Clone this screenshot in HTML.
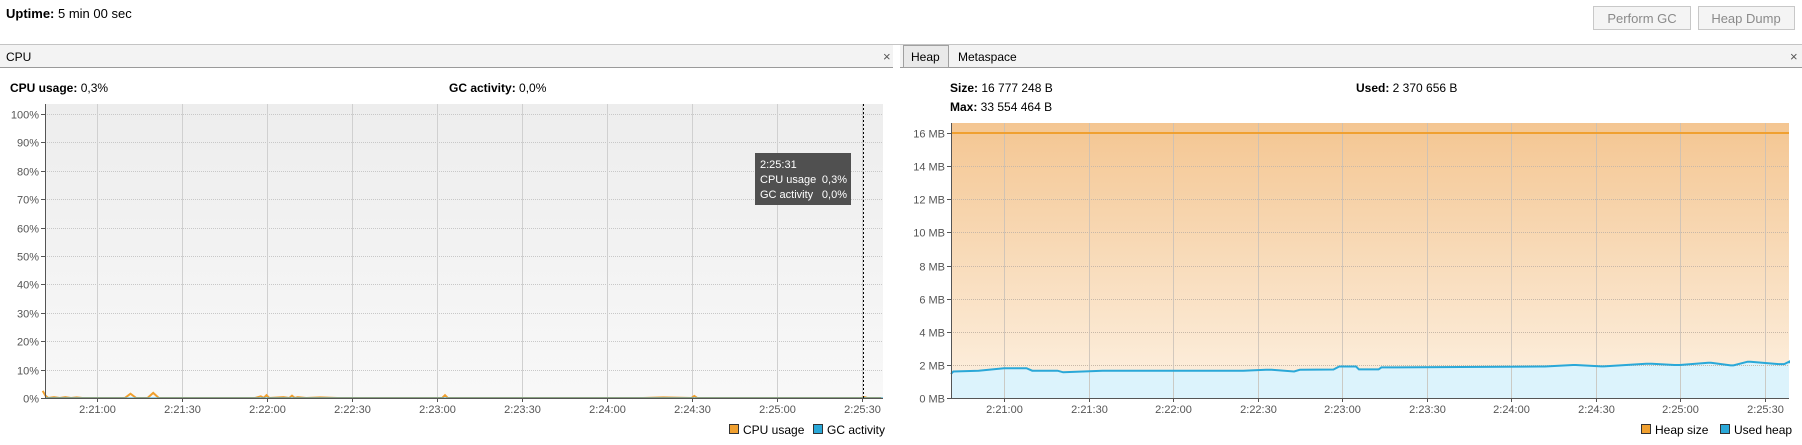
<!DOCTYPE html>
<html><head><meta charset="utf-8"><style>
html,body{margin:0;padding:0;background:#fff;width:1802px;height:445px;overflow:hidden}
svg{display:block;font-family:"Liberation Sans",Tahoma,sans-serif}
</style></head><body>
<svg id="s" width="1802" height="445" xmlns="http://www.w3.org/2000/svg">
<defs>
<linearGradient id="cpubg" x1="0" y1="0" x2="0" y2="1"><stop offset="0" stop-color="#ededed"/><stop offset="1" stop-color="#f8f8f8"/></linearGradient>
<linearGradient id="heapbg" x1="0" y1="0" x2="0" y2="1"><stop offset="0" stop-color="#f4c692"/><stop offset="1" stop-color="#fdf1e2"/></linearGradient>
</defs>
<text x="6" y="18" font-size="13"><tspan font-weight="bold">Uptime:</tspan> 5 min 00 sec</text>
<g><rect x="1593.5" y="6.5" width="97" height="23" fill="#f4f4f4" stroke="#c8c8c8"/><text x="1642" y="23" font-size="13" fill="#8a8a8a" text-anchor="middle">Perform GC</text></g>
<g><rect x="1698.5" y="6.5" width="96" height="23" fill="#f4f4f4" stroke="#c8c8c8"/><text x="1746" y="23" font-size="13" fill="#8a8a8a" text-anchor="middle">Heap Dump</text></g>
<line x1="0" y1="44.5" x2="1802" y2="44.5" stroke="#c4c4c4"/>
<rect x="0" y="45" width="893" height="22" fill="#f3f3f3"/>
<line x1="0" y1="67.5" x2="893" y2="67.5" stroke="#9a9a9a"/>
<text x="6" y="61" font-size="12">CPU</text>
<text x="883" y="61" font-size="13" fill="#555">×</text>
<rect x="900" y="45" width="902" height="22" fill="#f3f3f3"/>
<line x1="900" y1="67.5" x2="1802" y2="67.5" stroke="#9a9a9a"/>
<rect x="903.5" y="45.5" width="45" height="22" fill="#e9e9e9" stroke="#a0a0a0"/>
<text x="911" y="61" font-size="12">Heap</text>
<text x="958" y="61" font-size="12">Metaspace</text>
<text x="1790" y="61" font-size="13" fill="#555">×</text>
<text x="10" y="92" font-size="12"><tspan font-weight="bold">CPU usage:</tspan> 0,3%</text>
<text x="449" y="92" font-size="12"><tspan font-weight="bold">GC activity:</tspan> 0,0%</text>
<text x="950" y="92" font-size="12"><tspan font-weight="bold">Size:</tspan> 16 777 248 B</text>
<text x="950" y="111" font-size="12"><tspan font-weight="bold">Max:</tspan> 33 554 464 B</text>
<text x="1356" y="92" font-size="12"><tspan font-weight="bold">Used:</tspan> 2 370 656 B</text>
<g id="cpu"></g>
<g id="heap"></g>
<g>
<rect x="729.5" y="424.5" width="9" height="9" fill="#f0a030" stroke="#333"/><text x="743" y="434" font-size="12">CPU usage</text>
<rect x="813.5" y="424.5" width="9" height="9" fill="#2aa8d8" stroke="#333"/><text x="827" y="434" font-size="12">GC activity</text>
</g>
<g>
<rect x="1641.5" y="424.5" width="9" height="9" fill="#f0a030" stroke="#333"/><text x="1655" y="434" font-size="12">Heap size</text>
<rect x="1720.5" y="424.5" width="9" height="9" fill="#2aa8d8" stroke="#333"/><text x="1734" y="434" font-size="12">Used heap</text>
</g>
</svg>
<script>
// time in seconds relative to 2:21:00
const tickLabels = ["2:21:00","2:21:30","2:22:00","2:22:30","2:23:00","2:23:30","2:24:00","2:24:30","2:25:00","2:25:30"];
const tickSeconds = [0,30,60,90,120,150,180,210,240,270];
const cpuTicks = [0,10,20,30,40,50,60,70,80,90,100];
const cpuTimes = [-19,-18,-17,-15,-13,-11,-9,-7,-5,5,10,12,14,18,20,22,56,58,59,60,61,66,68,69,70,71,74,79,85,105,122,123,124,160,175,185,193,200,210,211,212,240,270,271,272,277];
const cpuValues = [2.5,0.8,0,0.3,0,0.3,0,0.2,0,0,0,1.5,0,0,1.8,0,0,0.6,0,1,0,0.3,0,0.8,0,0.3,0,0.2,0,0,0,1,0,0,0,0,0,0.2,0,0.7,0,0,0,0.3,0,0];
const heapTicks = [0,2,4,6,8,10,12,14,16];
const heapSizeMB = 16.0;
const usedTimes = [-19.5,-18,-9,0,8,10,19,21,28,35,85,93,95,103,105,117,119,125,126,133,134,162,190,192,202,203,212,213,228,230,238,240,250,251,258,259,264,265,275,277,285,287,297,298];
const usedValues = [1.45,1.6,1.65,1.8,1.8,1.65,1.65,1.55,1.6,1.65,1.65,1.7,1.7,1.6,1.7,1.72,1.9,1.9,1.73,1.73,1.85,1.87,1.9,1.9,1.99,1.99,1.91,1.91,2.07,2.07,1.99,1.99,2.13,2.13,1.97,1.97,2.19,2.19,2.05,2.05,2.19,2.19,2.1,2.23];

const NS="http://www.w3.org/2000/svg";
function mk(tag,attrs,parent){const e=document.createElementNS(NS,tag);for(const k in attrs)e.setAttribute(k,attrs[k]);parent.appendChild(e);return e;}
const cpuG=document.getElementById('cpu'), heapG=document.getElementById('heap');
// CPU axes
const cL=45,cR=883,cT=104,cB=398;
const cx=t=>96.5+t*85/30;
const cy=v=>398-v*2.84;
mk('rect',{x:cL,y:cT,width:cR-cL,height:cB-cT,fill:'url(#cpubg)'},cpuG);
cpuTicks.forEach(v=>{
  const y=Math.round(cy(v))+0.5;
  if(v>0) mk('line',{x1:cL,y1:y,x2:cR,y2:y,stroke:'#c8c8c8','stroke-dasharray':'1,1'},cpuG);
  mk('line',{x1:cL-4,y1:y,x2:cL,y2:y,stroke:'#555'},cpuG);
  const t=mk('text',{x:cL-6,y:y+4,'font-size':11,fill:'#555','text-anchor':'end'},cpuG);
  
  
  t.textContent=v+'%';
});
tickSeconds.forEach((s,i)=>{
  const x=Math.round(cx(s))+0.5;
  mk('line',{x1:x,y1:cT,x2:x,y2:cB,stroke:'#d0d0d0'},cpuG);
  mk('line',{x1:x,y1:cB,x2:x,y2:cB+4,stroke:'#555'},cpuG);
  const t=mk('text',{x:x,y:413,'font-size':11,fill:'#555','text-anchor':'middle'},cpuG);
  
  
  t.textContent=tickLabels[i];
});
let pts=cpuTimes.map((t,i)=>cx(t).toFixed(1)+','+cy(cpuValues[i]).toFixed(1)).join(' ');
const cl=mk('polyline',{points:pts,fill:'none',stroke:'#f0a030','stroke-width':2},cpuG);


mk('line',{x1:cL,y1:cB-0.5,x2:cR,y2:cB-0.5,stroke:'#2aa8d8','stroke-width':1,opacity:0.5},cpuG);
mk('line',{x1:cL+0.5,y1:cT,x2:cL+0.5,y2:cB,stroke:'#555'},cpuG);
mk('line',{x1:cL,y1:cB+0.5,x2:cR,y2:cB+0.5,stroke:'#555'},cpuG);
mk('line',{x1:863.5,y1:cT,x2:863.5,y2:cB,stroke:'#000','stroke-dasharray':'2,2'},cpuG);
const tip=mk('g',{},cpuG);


mk('rect',{x:755,y:153,width:96,height:52,fill:'#505050'},tip);
[['2:25:31',''],['CPU usage','0,3%'],['GC activity','0,0%']].forEach((r,i)=>{
  const a=mk('text',{x:760,y:168+i*15,'font-size':11,fill:'#fff'},tip);a.textContent=r[0];
  if(r[1]){const b=mk('text',{x:847,y:168+i*15,'font-size':11,fill:'#fff','text-anchor':'end'},tip);b.textContent=r[1];}
});
// Heap axes
const hL=951,hR=1789,hT=123,hB=398;
const hx=t=>1004+t*84.5/30;
const hy=v=>398-v*16.56;
mk('rect',{x:hL,y:hT,width:hR-hL,height:hB-hT,fill:'url(#heapbg)'},heapG);
let up=usedTimes.map((t,i)=>Math.max(hL,Math.min(hR,hx(t))).toFixed(1)+','+hy(usedValues[i]).toFixed(1));
const ua=mk('polygon',{points:hL+','+hB+' '+up.join(' ')+' '+hR+','+hB,fill:'#dcf3fc'},heapG);


heapTicks.forEach(v=>{
  const y=Math.round(hy(v))+0.5;
  if(v>0) mk('line',{x1:hL,y1:y,x2:hR,y2:y,stroke:'#c8b8a8','stroke-dasharray':'1,1'},heapG);
  mk('line',{x1:hL-4,y1:y,x2:hL,y2:y,stroke:'#555'},heapG);
  const t=mk('text',{x:hL-6,y:y+4,'font-size':11,fill:'#555','text-anchor':'end'},heapG);
  
  
  t.textContent=v+' MB';
});
tickSeconds.forEach((s,i)=>{
  const x=Math.round(hx(s))+0.5;
  mk('line',{x1:x,y1:hT,x2:x,y2:hB,stroke:'#c8c0b8',opacity:0.8},heapG);
  mk('line',{x1:x,y1:hB,x2:x,y2:hB+4,stroke:'#555'},heapG);
  const t=mk('text',{x:x,y:413,'font-size':11,fill:'#555','text-anchor':'middle'},heapG);
  
  
  t.textContent=tickLabels[i];
});
const hs=mk('line',{x1:hL,y1:hy(heapSizeMB),x2:hR,y2:hy(heapSizeMB),stroke:'#f0a030','stroke-width':2},heapG);


const ul=mk('polyline',{points:up.join(' '),fill:'none',stroke:'#2aa8d8','stroke-width':2},heapG);


mk('line',{x1:hL+0.5,y1:hT,x2:hL+0.5,y2:hB,stroke:'#555'},heapG);
mk('line',{x1:hL,y1:hB+0.5,x2:hR,y2:hB+0.5,stroke:'#555'},heapG);
</script>
</body></html>
